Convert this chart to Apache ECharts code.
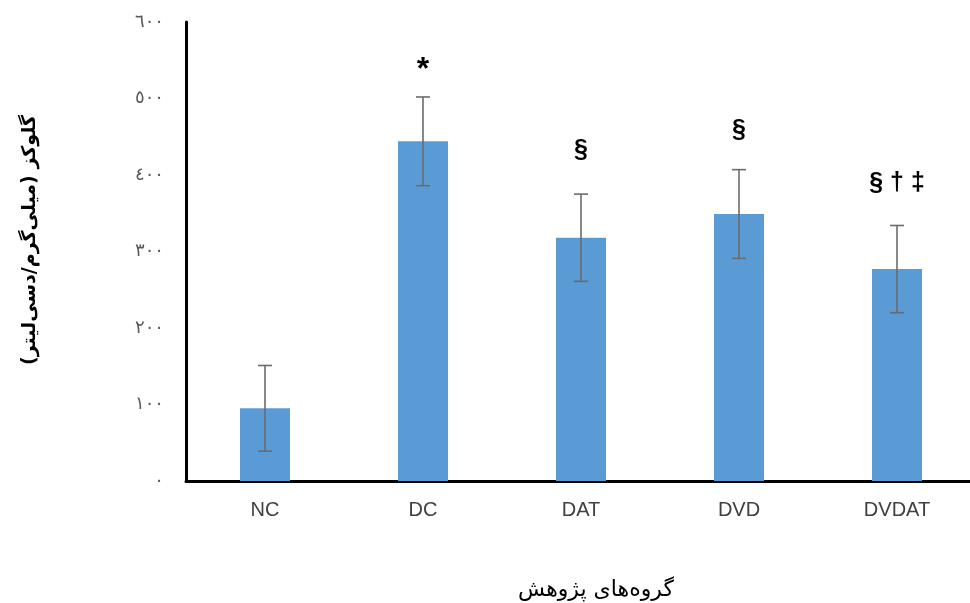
<!DOCTYPE html>
<html><head><meta charset="utf-8">
<script src="https://cdn.jsdelivr.net/npm/echarts@6/dist/echarts.min.js"></script>
<style>html,body{margin:0;padding:0;background:#fff;overflow:hidden;width:970px;height:603px}#c{width:980px;height:603px}</style>
</head><body><div id="c"></div>
<script>
const categories = ['NC', 'DC', 'DAT', 'DVD', 'DVDAT'];
const means = [95, 444, 318, 349, 277];
const sds = [56, 58, 57, 58, 57];
const annotations = ['', '*', '§', '§', '§ † ‡'];
const annotationY = [0, 537, 433, 459, 390];
const yTicks = [0, 100, 200, 300, 400, 500, 600];
const yTitle = '\u200Fگلوکز (میلی‌گرم/دسی‌لیتر)\u200F';
const xTitle = 'گروه‌های پژوهش';

const arabicDigits = s => String(s).replace(/[0-9]/g, d => '٠١٢٣٤٥٦٧٨٩'[d]);

const chart = echarts.init(document.getElementById('c'), null, {renderer: 'canvas'});
chart.setOption({
  animation: false,
  backgroundColor: '#fff',
  grid: {left: 186, top: 22, width: 790, height: 459, containLabel: false},
  xAxis: {
    type: 'category', data: categories, boundaryGap: true,
    axisLine: {show: true, lineStyle: {color: '#000', width: 3}},
    axisTick: {show: false},
    axisLabel: {color: '#404040', fontSize: 20, fontFamily: 'Liberation Sans', margin: 19}
  },
  yAxis: {
    type: 'value', min: yTicks[0], max: yTicks[yTicks.length - 1], interval: 100,
    axisLine: {show: true, lineStyle: {color: '#000', width: 3}},
    axisTick: {show: false},
    splitLine: {show: false},
    axisLabel: {color: '#595959', fontSize: 18, fontFamily: 'DejaVu Sans', margin: 22,
      formatter: v => arabicDigits(v)}
  },
  graphic: [
    {type: 'text', x: 596, y: 590, style: {text: xTitle, fontSize: 22, fontFamily: 'DejaVu Sans', fill: '#000', align: 'center', verticalAlign: 'middle'}},
    {type: 'text', x: 30, y: 240, rotation: Math.PI / 2,
      style: {text: yTitle, fontSize: 19, fontWeight: 'bold', fontFamily: 'DejaVu Sans', fill: '#000', align: 'center', verticalAlign: 'middle'}}
  ],
  series: [
    {type: 'bar', data: means, barWidth: 50, itemStyle: {color: '#5B9BD5'}, z: 2},
    {
      type: 'custom', z: 3,
      data: means.map((m, i) => [i, m - sds[i], m + sds[i]]),
      renderItem: (params, api) => {
        const lo = api.coord([api.value(0), api.value(1)]);
        const hi = api.coord([api.value(0), api.value(2)]);
        const w = 7;
        const st = {stroke: '#6b6b6b', lineWidth: 1.6};
        return {type: 'group', children: [
          {type: 'line', shape: {x1: hi[0], y1: hi[1], x2: lo[0], y2: lo[1]}, style: st},
          {type: 'line', shape: {x1: hi[0] - w, y1: hi[1], x2: hi[0] + w, y2: hi[1]}, style: st},
          {type: 'line', shape: {x1: lo[0] - w, y1: lo[1], x2: lo[0] + w, y2: lo[1]}, style: st}
        ]};
      }
    },
    {
      type: 'custom', z: 4,
      data: annotationY.map((y, i) => [i, y]),
      renderItem: (params, api) => {
        const p = api.coord([api.value(0), api.value(1)]);
        const t = annotations[params.dataIndex];
        return {type: 'text', x: p[0], y: p[1], style: {
          text: t, fontSize: t === '*' ? 32 : 25, fontWeight: 'bold',
          fontFamily: 'Liberation Sans', fill: '#000', align: 'center', verticalAlign: 'middle'}};
      }
    }
  ]
});
</script></body></html>
